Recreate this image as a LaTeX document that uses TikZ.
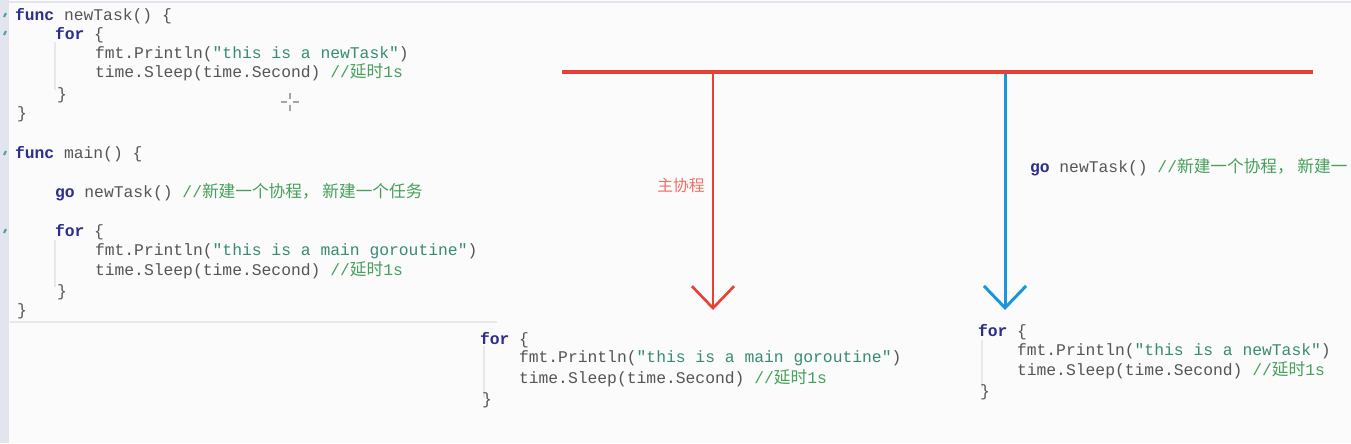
\documentclass[tikz,border=0pt]{standalone}
\usepackage{fontspec}
\usetikzlibrary{arrows.meta,positioning}
\newfontfamily\codefont{Liberation Mono}
\newfontfamily\cjk{Noto Sans CJK SC}[Scale=1.02]
\newfontfamily\cjklabel{Noto Sans CJK SC}
\definecolor{kwcolor}{RGB}{45,45,140}
\definecolor{txtcolor}{RGB}{85,85,85}
\definecolor{strcolor}{RGB}{55,140,110}
\definecolor{cmtcolor}{RGB}{70,160,90}
\definecolor{linered}{RGB}{232,64,52}
\definecolor{lineblue}{RGB}{25,150,220}
\definecolor{labelred}{RGB}{240,112,100}
\definecolor{panelgray}{RGB}{226,229,237}
\definecolor{paper}{RGB}{251,251,252}
\newcommand\gokw[1]{\textcolor{kwcolor}{\bfseries #1}}
\newcommand\gostr[1]{\textcolor{strcolor}{#1}}
\newcommand\gocmt[1]{\textcolor{cmtcolor}{#1}}
\newcommand\zh[1]{{\cjk #1}}
\tikzset{
    % Code
    code line/.style={anchor=base west,inner sep=0pt,outer sep=0pt,text=txtcolor,
        font=\codefont\fontsize{9.3pt}{11pt}\selectfont},
    indent guide/.style={gray!18,line width=.6pt},
    gutter mark/.style={color={rgb,255:red,80;green,160;blue,170},line width=1.2pt},
    %
    % Lines
    arrow tip/.tip={Straight Barb[length=12.5pt,width=24pt]},
    time line/.style={linered,line width=2.3pt},
    main line/.style={-{arrow tip},linered,line width=1.5pt},
    task line/.style={-{arrow tip},lineblue,line width=1.7pt},
    label/.style={text=labelred,font=\cjklabel\fontsize{9pt}{10pt}\selectfont,inner sep=0pt}
}

\begin{document}
\begin{tikzpicture}[x=0.02cm,y=-0.02cm]
    \useasboundingbox (0,0) rectangle (1351,443);
    \clip (0,0) rectangle (1351,443);
    \fill[paper] (0,0) rectangle (1351,443);
    % editor panel
    \fill[panelgray] (0,0) rectangle (9,443);
    \draw[panelgray,line width=1.5pt] (0,2) -- (1351,2);
    \draw[gray!18,line width=1.2pt] (10,322) -- (497,322);
    \foreach \y in {15,33,153,231}
        \draw[gutter mark] (4,\y+2) -- (6,\y-2);
    \draw[indent guide] (55,42) -- (55,90) (55,240) -- (55,287) (484,346) -- (484,398) (982,340) -- (982,388);
    % cursor
    \draw[gray!70,line width=.6pt] (290,93) -- (290,99) (290,105) -- (290,111) (281,102) -- (287,102) (293,102) -- (299,102);

    % source
    \node[code line] (nt1) at (15,20) {\gokw{func} newTask() \{};
    \node[code line] (nt2) at (55,39) {\gokw{for} \{};
    \node[code line] (nt3) at (95,58) {fmt.Println(\gostr{"this is a newTask"})};
    \node[code line] (nt4) at (95,77) {time.Sleep(time.Second) \gocmt{//\zh{延时}1s}};
    \node[code line] (nt5) at (57,99) {\}};
    \node[code line] (nt6) at (17,118) {\}};
    \node[code line] (mn1) at (15,158) {\gokw{func} main() \{};
    \node[code line] (mn2) at (55,197) {\gokw{go} newTask() \gocmt{//\zh{新建一个协程， 新建一个任务}}};
    \node[code line] (mn3) at (55,236) {\gokw{for} \{};
    \node[code line] (mn4) at (95,255) {fmt.Println(\gostr{"this is a main goroutine"})};
    \node[code line] (mn5) at (95,275) {time.Sleep(time.Second) \gocmt{//\zh{延时}1s}};
    \node[code line] (mn6) at (57,296) {\}};
    \node[code line] (mn7) at (17,315) {\}};

    % timelines
    \coordinate (start) at (562,72);
    \coordinate (stop) at (1313,72);
    \coordinate (main top) at (713,72);
    \coordinate (main end) at (713,310);
    \coordinate (task top) at (1005,72);
    \coordinate (task end) at (1005,310);
    \draw[task line] (task top) -- (task end);
    \draw[main line] (main top) -- (main end);
    \draw[time line] (start) -- (stop);
    \node[label] (mainlabel) at (681,185) {主协程};
    \node[code line] (golabel) at (1030,172) {\gokw{go} newTask() \gocmt{//\zh{新建一个协程， 新建一}}};

    % loops
    \node[code line] (ml1) at (480,344) {\gokw{for} \{};
    \node[code line] (ml2) at (519,362) {fmt.Println(\gostr{"this is a main goroutine"})};
    \node[code line] (ml3) at (519,383) {time.Sleep(time.Second) \gocmt{//\zh{延时}1s}};
    \node[code line] (ml4) at (482,404) {\}};
    \node[code line] (tl1) at (978,336) {\gokw{for} \{};
    \node[code line] (tl2) at (1017,355) {fmt.Println(\gostr{"this is a newTask"})};
    \node[code line] (tl3) at (1017,375) {time.Sleep(time.Second) \gocmt{//\zh{延时}1s}};
    \node[code line] (tl4) at (980,396) {\}};
\end{tikzpicture}
\end{document}
